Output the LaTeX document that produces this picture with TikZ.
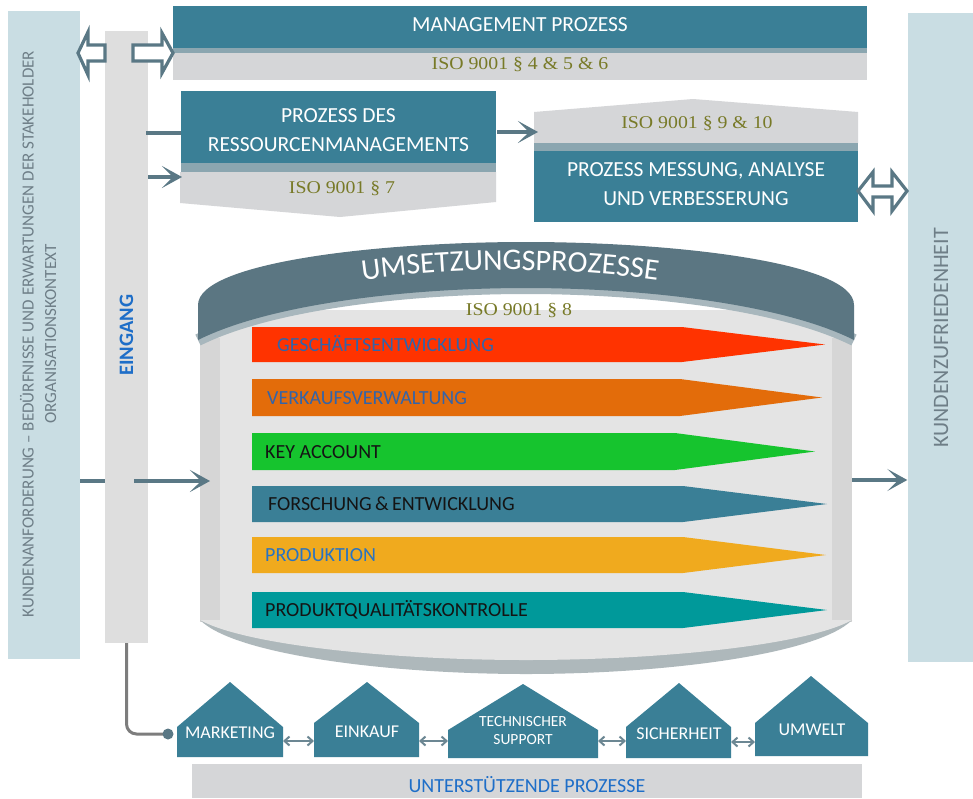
\documentclass[tikz,border=0pt]{standalone}
\usepackage{fontspec}
\setmainfont{Carlito}
\newfontfamily\isofont[FakeStretch=1.1]{Liberation Serif}
\usetikzlibrary{arrows.meta,decorations.text,calc}
\definecolor{tealA}{RGB}{58,127,150}
\definecolor{panelgray}{RGB}{213,214,216}
\definecolor{stripgray}{RGB}{139,166,176}
\definecolor{sidebarc}{RGB}{201,221,227}
\definecolor{ebar}{RGB}{222,222,222}
\definecolor{arrowc}{RGB}{90,120,133}
\definecolor{isoc}{RGB}{120,122,40}
\definecolor{capc}{RGB}{91,118,130}
\definecolor{bandc}{RGB}{168,183,189}
\definecolor{bodyc}{RGB}{228,228,228}
\definecolor{sidec}{RGB}{214,214,214}
\definecolor{bowlc}{RGB}{174,184,187}
\definecolor{sidetext}{RGB}{110,126,135}
\definecolor{blueT}{RGB}{30,110,200}
\definecolor{redS}{RGB}{255,51,0}
\definecolor{orangeS}{RGB}{227,108,10}
\definecolor{greenS}{RGB}{22,196,46}
\definecolor{yellowS}{RGB}{240,170,30}
\definecolor{tealS}{RGB}{0,153,154}
\definecolor{txtA}{RGB}{50,100,170}
\definecolor{txtB}{RGB}{40,115,195}
\definecolor{txtK}{RGB}{20,20,20}
\definecolor{smallarr}{RGB}{108,135,147}
\definecolor{dotline}{RGB}{125,125,125}
\newcommand{\setfs}[1]{\fontsize{#1}{#1}\selectfont}
% name, top, height, tipx, taperx, fill, textcolor, textx, text
\newcommand{\mkstripe}[9]{%
  \fill[#6] (252,#2) -- (#5,#2) -- (#4,#2+#3/2) -- (#5,#2+#3) -- (252,#2+#3) -- cycle;
  \node[stripetxt, text=#7] (#1) at (#8,#2+#3/2+6.5) {#9};}
% name, xl, xr, peakx, peaky, eavey, bottom
\newcommand{\mkhouse}[7]{%
  \fill[tealA] (#2,#7) -- (#2,#6) -- (#4,#5) -- (#3,#6) -- (#3,#7) -- cycle;
  \coordinate (#1W) at (#2,741);
  \coordinate (#1E) at (#3,741);}
\tikzset{
  boxtitle/.style={anchor=base, inner sep=0, text=white, font=\setfs{21.5}},
  isotxt/.style={anchor=base, inner sep=0, text=isoc, font=\isofont\setfs{18}},
  stripetxt/.style={anchor=base west, inner sep=0, font=\setfs{20}},
  housetxt/.style={anchor=base, inner sep=0, text=white, font=\setfs{18}},
  conn/.style={draw=arrowc, line width=4.5pt},
  connhead/.style={conn, -{Stealth[length=20pt, width=22pt, inset=11pt]}},
  hollow/.style={draw=arrowc, fill=white, line width=3.2pt, line join=miter},
  linkarr/.style={draw=smallarr, line width=2pt, {Straight Barb[length=5pt, width=9pt]}-{Straight Barb[length=5pt, width=9pt]}},
}
\begin{document}
\begin{tikzpicture}[x=1pt, y=-1pt]
\useasboundingbox (0,0) rectangle (973,798);
\fill[white] (0,0) rectangle (973,798);

% left side bar
\node[fill=sidebarc, inner sep=0, minimum width=72pt, minimum height=648pt] (leftbar) at (44,335) {};
\node[rotate=90, anchor=base, inner sep=0, text=sidetext, font=\setfs{17}] (lefttxtA) at (33.5,334) {KUNDENANFORDERUNG – BEDÜRFNISSE UND ERWARTUNGEN DER STAKEHOLDER};
\node[rotate=90, anchor=base, inner sep=0, text=sidetext, font=\setfs{17}] (lefttxtB) at (56,334) {ORGANISATIONSKONTEXT};

% right side bar
\node[fill=sidebarc, inner sep=0, minimum width=65pt, minimum height=649pt] (rightbar) at (940,337.5) {};
\node[rotate=90, anchor=base, inner sep=0, text=sidetext, font=\setfs{22}] (righttxt) at (948,338) {KUNDENZUFRIEDENHEIT};

% Eingang bar
\node[fill=ebar, inner sep=0, minimum width=43pt, minimum height=612pt] (eing) at (126.5,337) {};
\node[rotate=90, anchor=base, inner sep=0, text=blueT, font=\bfseries\setfs{20.5}] (eingtxt) at (133,335) {EINGANG};

% Management
\fill[tealA] (173,6) rectangle (867,48);
\fill[stripgray] (173,48) rectangle (867,53);
\fill[panelgray] (173,53) rectangle (867,80);
\node[boxtitle] (mgmt) at (520,31) {MANAGEMENT PROZESS};
\node[isotxt] (mgmtiso) at (520,69) {ISO 9001 § 4 \& 5 \& 6};

% Ressourcen
\fill[tealA] (181,91) rectangle (496,163);
\fill[stripgray] (181,163) rectangle (496,172);
\fill[panelgray] (180,172) -- (496,172) -- (496,202) -- (340,217) -- (180,203) -- cycle;
\node[boxtitle] (resA) at (338.5,122) {PROZESS DES};
\node[boxtitle] (resB) at (338.5,151) {RESSOURCENMANAGEMENTS};
\node[isotxt] (resiso) at (342,193) {ISO 9001 § 7};

% Messung
\fill[panelgray] (534,112) -- (693,99) -- (858,112) -- (858,143) -- (534,143) -- cycle;
\fill[stripgray] (534,143) rectangle (858,151);
\fill[tealA] (534,151) rectangle (858,222);
\node[isotxt] (mesiso) at (697,128) {ISO 9001 § 9 \& 10};
\node[boxtitle] (mesA) at (696,176) {PROZESS MESSUNG, ANALYSE};
\node[boxtitle] (mesB) at (696,205) {UND VERBESSERUNG};

% hollow arrows
\path[hollow] (78,53) -- (88,32) -- (88,45) -- (105,45) -- (105,61) -- (88,61) -- (88,75) -- cycle;
\path[hollow] (133,45) -- (162,45) -- (162,33) -- (173,53) -- (162,73) -- (162,61) -- (133,61) -- cycle;
\path[hollow] (858,191) -- (873,172) -- (873,186) -- (892,186) -- (892,172) -- (907,191) -- (892,211) -- (892,197) -- (873,197) -- (873,211) -- cycle;

% connectors top
\coordinate (eRa) at (146,133);
\coordinate (resWa) at (181,133);
\coordinate (eRb) at (148,177);
\coordinate (resWb) at (182,177);
\coordinate (resE) at (497,132);
\coordinate (mesW) at (538,132);
\draw[conn] (eRa) -- (resWa);
\draw[connhead] (eRb) -- (resWb);
\draw[connhead] (resE) -- (mesW);

% cylinder
\fill[bodyc] (200,310) rectangle (852,622);
\fill[sidec] (200,338) rectangle (220,622);
\fill[sidec] (832,338) rectangle (852,622);
\fill[bowlc] (200,620) .. controls (235,655) and (390,674) .. (526,674) .. controls (662,674) and (817,655) .. (852,620) -- cycle;
\fill[bodyc] (200,620) .. controls (245,645) and (390,660) .. (526,660) .. controls (662,660) and (807,645) .. (852,620) -- cycle;
\draw[bandc, line width=12pt] (198,340) .. controls (272,303) and (412,288) .. (526,288) .. controls (640,288) and (780,303) .. (854,340);
\fill[capc] (198,340) -- (198,305) .. controls (198,262) and (380,242) .. (526,242) .. controls (672,242) and (854,262) .. (854,305) -- (854,340) .. controls (780,303) and (640,288) .. (526,288) .. controls (412,288) and (272,303) .. (198,340) -- cycle;
\path[decorate, decoration={text along path, text align=center, text={|\setfs{30}\color{white}|UMSETZUNGSPROZESSE}}] (330,285) .. controls (450,265) and (570,265) .. (690,285);
\node[isotxt] (cyliso) at (519,315) {ISO 9001 § 8};
\coordinate (cylW) at (210,481);
\coordinate (cylE) at (852,480);

% stripes
\mkstripe{sA}{327}{35}{825}{682}{redS}{txtA}{277}{GESCHÄFTSENTWICKLUNG}
\mkstripe{sB}{379}{37}{822}{680}{orangeS}{txtA}{267}{VERKAUFSVERWALTUNG}
\mkstripe{sC}{433}{37}{815}{675}{greenS}{txtK}{265}{KEY ACCOUNT}
\mkstripe{sD}{486}{36}{827}{683}{tealA}{txtK}{268}{FORSCHUNG\,\&\,ENTWICKLUNG}
\mkstripe{sE}{537}{36}{826}{683}{yellowS}{txtB}{265}{PRODUKTION}
\mkstripe{sF}{592}{36}{827}{683}{tealS}{txtK}{265}{PRODUKTQUALITÄTSKONTROLLE}

% main flow arrows
\coordinate (y481) at (0,481);
\coordinate (eMid) at (134,481);
\draw[conn] (leftbar.east |- y481) -- (eing.west |- y481);
\draw[connhead] (eMid) -- (cylW);
\draw[connhead] (cylE) -- (rightbar.west |- cylE);

% support processes
\fill[panelgray] (192,764) rectangle (862,798);
\node[anchor=base, inner sep=0, text=blueT, font=\setfs{20}] (support) at (527,792.5) {UNTERSTÜTZENDE PROZESSE};
\mkhouse{mk}{177}{283}{230}{682}{727}{757}
\mkhouse{ek}{314}{419}{367}{682}{723}{757}
\mkhouse{ts}{448}{598}{523}{684}{730}{758}
\mkhouse{si}{626}{731}{679}{683}{727}{758}
\mkhouse{uw}{755}{868}{811}{676}{723}{756}
\node[housetxt] (mktxt) at (230,738) {MARKETING};
\node[housetxt] (ektxt) at (367,737) {EINKAUF};
\node[housetxt, font=\setfs{15.5}] (tstxtA) at (523,726) {TECHNISCHER};
\node[housetxt, font=\setfs{15.5}] (tstxtB) at (523,744) {SUPPORT};
\node[housetxt] (sitxt) at (679,739) {SICHERHEIT};
\node[housetxt] (uwtxt) at (812,735) {UMWELT};
\draw[linkarr] (mkE) -- (ekW);
\draw[linkarr] (ekE) -- (tsW);
\draw[linkarr] (tsE) -- (siW);
\draw[linkarr] ([yshift=-1pt]siE) -- ([yshift=-1pt]uwW);

% Eingang to support connector
\coordinate (dot) at (168,734);
\draw[dotline, line width=3pt, rounded corners=10pt] (eing.south) -- (eing.south |- dot) -- (dot);
\fill[arrowc] (dot) circle (5.5);
\end{tikzpicture}
\end{document}
